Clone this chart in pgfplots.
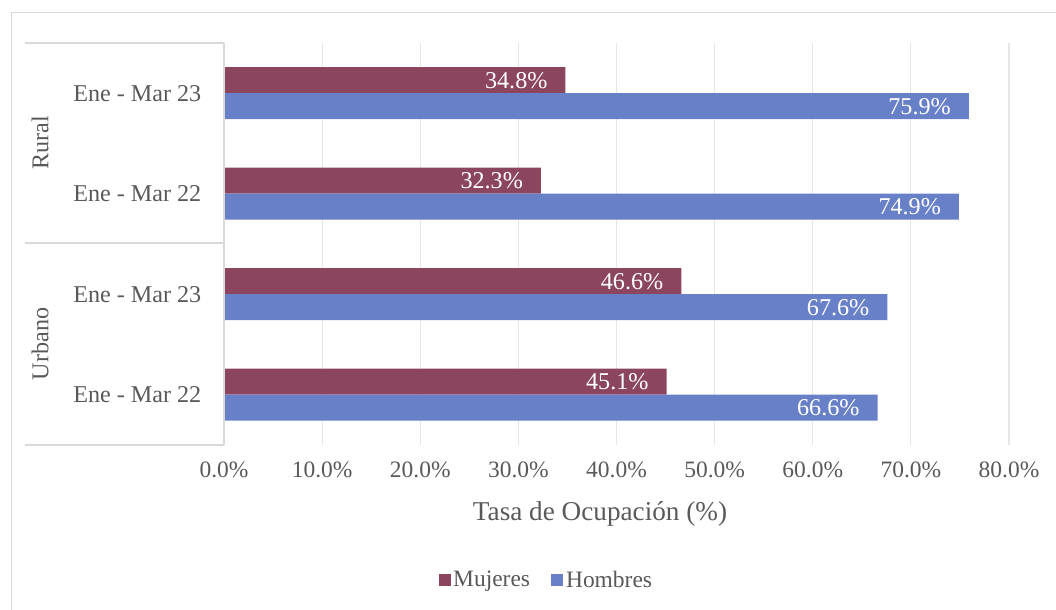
\documentclass[border=0pt]{standalone}
\usepackage{fontspec}
\setmainfont{Liberation Serif}
\usepackage{pgfplots}
\pgfplotsset{compat=1.18}
\definecolor{muj}{RGB}{139,69,95}
\definecolor{hom}{RGB}{104,128,199}
\definecolor{txt}{RGB}{89,89,89}
\definecolor{grd}{RGB}{230,230,230}
\definecolor{bx}{RGB}{217,217,217}
\newcommand\fs{\fontsize{17.6pt}{21pt}\selectfont}
\newcommand\fc{\fontsize{18.1pt}{21pt}\selectfont}
\newcommand\fl{\fontsize{20.4pt}{24pt}\selectfont}
\begin{document}
\begin{tikzpicture}
\useasboundingbox (0,0) rectangle (792pt,457.5pt);
% outer chart border (px -> pt: X=0.75px, Y=0.75(610-py))
\draw[bx, line width=0.75pt] (8.25pt,0) -- (8.25pt,447.75pt) -- (792pt,447.75pt);
\begin{axis}[
  at={(168pt,123.75pt)}, anchor=south west,
  scale only axis, width=588.75pt, height=301.5pt,
  xbar, xmin=0, xmax=80, ymin=-0.5, ymax=3.5,
  bar width=19.5pt,
  ytick={0,1,2,3},
  yticklabels={Ene - Mar 22, Ene - Mar 23, Ene - Mar 22, Ene - Mar 23},
  xtick={0,10,...,80},
  xticklabel={\pgfmathprintnumber[fixed,fixed zerofill,precision=1]{\tick}\%},
  /pgf/number format/assume math mode=true,
  major tick length=0pt,
  axis line style={draw=none},
  xmajorgrids, grid style={draw=grd, line width=0.9pt},
  tick label style={font=\fs, text=txt},
  yticklabel style={font=\fc, xshift=-13.5pt},
  xticklabel style={yshift=-9pt},
  xlabel={Tasa de Ocupación (\%)},
  xlabel style={font=\fl, text=txt, at={(axis description cs:0.479,0)}, anchor=center, yshift=-52pt},
  point meta=x,
  nodes near coords={\pgfmathprintnumber[fixed,fixed zerofill,precision=1]{\pgfplotspointmeta}\%},
  nodes near coords style={anchor=east, text=white, font=\fc, xshift=-10pt},
  legend columns=2,
  legend style={at={(axis description cs:0.411,-0.336)}, anchor=center, draw=none, fill=none, font=\fs, text=txt,
    /tikz/every even column/.append style={column sep=14pt}},
]
\addplot[fill=muj, draw=none, bar shift=9.75pt,
  legend image code/.code={\fill[muj] (0pt,-4.5pt) rectangle (9pt,4.5pt);}]
  coordinates {(45.1,0) (46.6,1) (32.3,2) (34.8,3)};
\addplot[fill=hom, draw=none, bar shift=-9.75pt,
  legend image code/.code={\fill[hom] (0pt,-4.5pt) rectangle (9pt,4.5pt);}]
  coordinates {(66.6,0) (67.6,1) (74.9,2) (75.9,3)};
\legend{Mujeres, Hombres}
\end{axis}
% category box lines
\draw[bx, line width=0.9pt] (18.75pt,425.25pt) -- (168pt,425.25pt);
\draw[bx, line width=0.9pt] (18.75pt,275.25pt) -- (168pt,275.25pt);
\draw[bx, line width=0.9pt] (18.75pt,123.75pt) -- (168pt,123.75pt);
\draw[bx, line width=0.9pt] (168pt,123.75pt) -- (168pt,425.25pt);
\node[font=\fc, text=txt, rotate=90] at (30pt,350.25pt) {Rural};
\node[font=\fc, text=txt, rotate=90] at (30pt,199.5pt) {Urbano};
\end{tikzpicture}
\end{document}
